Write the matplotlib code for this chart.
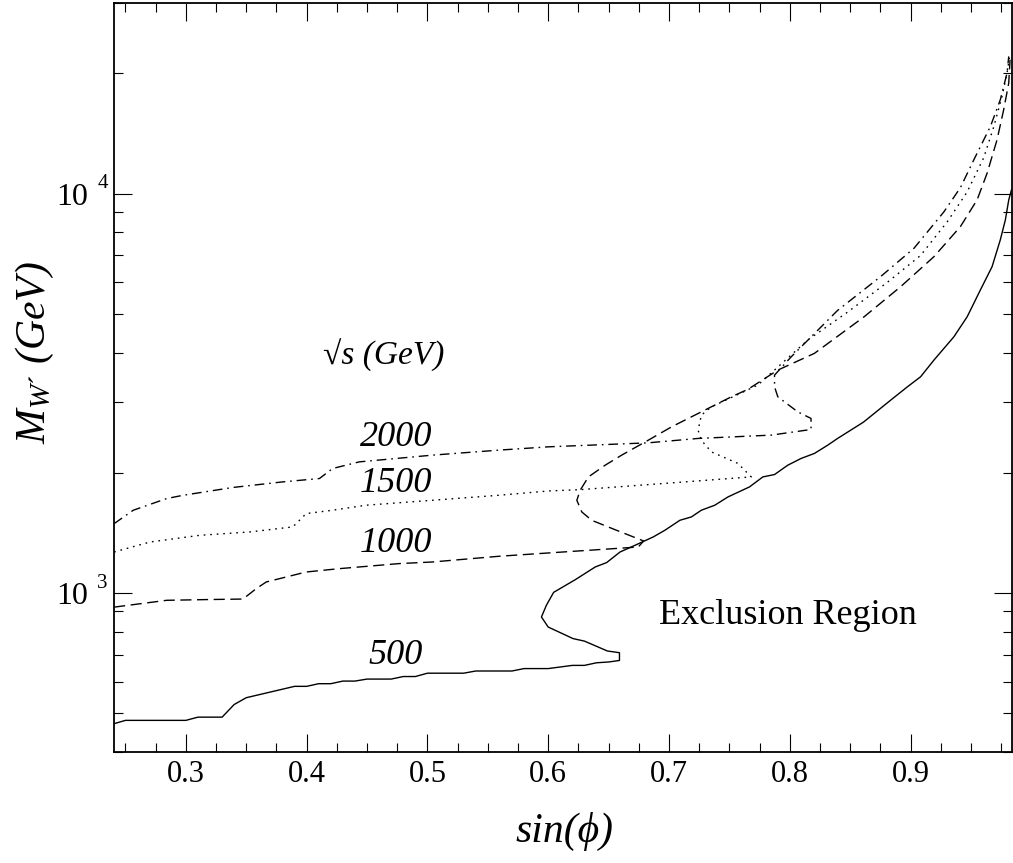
import matplotlib
matplotlib.use("Agg")
import matplotlib.pyplot as plt
from matplotlib.ticker import MultipleLocator, LogLocator, NullFormatter, FixedLocator

plt.rcParams['font.family'] = ['Liberation Serif', 'DejaVu Serif']
plt.rcParams['mathtext.fontset'] = 'custom'
plt.rcParams['mathtext.rm'] = 'Liberation Serif'
plt.rcParams['mathtext.it'] = 'Liberation Serif:italic'
plt.rcParams['mathtext.fallback'] = 'stix'

# ---- data ----
x500 = [0.2406, 0.25, 0.30, 0.31, 0.33, 0.34, 0.35, 0.39, 0.40, 0.41, 0.42, 0.43, 0.44, 0.45, 0.47, 0.48,
        0.49, 0.50, 0.53, 0.54, 0.57, 0.58, 0.60, 0.62, 0.63, 0.64, 0.65, 0.659, 0.659, 0.649, 0.63, 0.6206,
        0.60, 0.5944, 0.5985, 0.6045, 0.6224, 0.6389, 0.6484, 0.6595, 0.6719, 0.687, 0.6966, 0.709, 0.7186,
        0.7268, 0.7379, 0.7488, 0.7667, 0.7777, 0.7874, 0.7983, 0.8093, 0.8204, 0.8314, 0.8396, 0.861,
        0.8836, 0.8974, 0.9083, 0.9194, 0.9359, 0.9469, 0.9578, 0.9675, 0.9743, 0.9785, 0.9813, 0.9835]
y500 = [471, 480, 480, 489, 489, 526, 547, 584, 584, 593, 593, 602, 602, 609, 609, 618,
        618, 630, 630, 638, 638, 647, 647, 659, 659, 669, 672, 678, 709, 716, 758, 769,
        822, 871, 932, 1004, 1080, 1162, 1192, 1267, 1317, 1382, 1436, 1521, 1551,
        1612, 1659, 1740, 1844, 1953, 1980, 2089, 2172, 2236, 2345, 2438, 2678,
        3041, 3283, 3478, 3831, 4381, 4917, 5736, 6561, 7656, 8590, 9640, 10200]

x1000 = [0.2406, 0.2841, 0.3171, 0.3473, 0.3583, 0.3666, 0.3996, 0.4271, 0.4766, 0.504, 0.5591, 0.6003,
         0.6746, 0.679, 0.6553, 0.636, 0.6278, 0.6237, 0.6265, 0.6333, 0.6471, 0.6608, 0.6828, 0.7021,
         0.7268, 0.7516, 0.7653, 0.7901, 0.8204, 0.8616, 0.8918, 0.9194, 0.9413, 0.9551, 0.9634, 0.9716,
         0.9771, 0.9813, 0.9824]
y1000 = [922, 959, 963, 966, 1026, 1066, 1129, 1151, 1185, 1196, 1236, 1260,
         1304, 1350, 1441, 1521, 1596, 1707, 1809, 1953, 2089, 2214, 2413, 2606,
         2842, 3099, 3235, 3615, 3981, 4917, 5847, 6953, 8268, 9643, 11250, 13630,
         16210, 18910, 21630]

x1500 = [0.2406, 0.2703, 0.3116, 0.3528, 0.3885, 0.3941, 0.3996, 0.4215, 0.4491, 0.504, 0.5591, 0.6003,
         0.6278, 0.7021, 0.7681, 0.7571, 0.7351, 0.7268, 0.7241, 0.7268, 0.7351, 0.7736, 0.8149, 0.8479,
         0.8809, 0.9083, 0.9304, 0.9469, 0.9606, 0.9689, 0.9757, 0.9799, 0.9819]
y1500 = [1267, 1342, 1395, 1422, 1464, 1521, 1581, 1612, 1659, 1707, 1757, 1801,
         1816, 1887, 1953, 2111, 2256, 2413, 2557, 2788, 2925, 3316, 4300, 5050,
         6000, 7000, 8500, 10100, 12300, 14700, 17500, 20040, 21880]

x2000 = [0.2406, 0.2565, 0.2841, 0.2978, 0.339, 0.3803, 0.4106, 0.4215, 0.4436, 0.504, 0.5591, 0.6003,
         0.6828, 0.7241, 0.7846, 0.8176, 0.8176, 0.8066, 0.7901, 0.7874, 0.7874, 0.8011, 0.8396, 0.8753,
         0.9029, 0.9276, 0.9413, 0.9524, 0.9661, 0.9743, 0.9799, 0.9813]
y2000 = [1492, 1612, 1724, 1757, 1838, 1898, 1935, 2050, 2130, 2214, 2279, 2323,
         2377, 2438, 2485, 2567, 2736, 2842, 3099, 3283, 3512, 3900, 5100, 6200,
         7300, 9000, 10350, 12150, 14720, 17170, 20040, 22050]

curve_labels = ["500", "1000", "1500", "2000"]
label_x = [0.474, 0.474, 0.474, 0.474]
label_y = [698, 1332, 1883, 2449]

xticks = [0.3, 0.4, 0.5, 0.6, 0.7, 0.8, 0.9]
xtick_labels = ["0.3", "0.4", "0.5", "0.6", "0.7", "0.8", "0.9"]
ymajor = [1e3, 1e4]
ymajor_exp = ["3", "4"]

# ---- figure ----
fig = plt.figure(figsize=(10.13, 8.63), dpi=100)
ax = fig.add_axes([114/1013, 1 - 752/863, (1012-114)/1013, (752-3)/863])

lw = 1.0
ax.plot(x500, y500, color='black', lw=lw, ls='-')
ax.plot(x1000, y1000, color='black', lw=lw, ls=(0, (8, 4)))
ax.plot(x1500, y1500, color='black', lw=lw, ls=(0, (1.2, 3.5)))
ax.plot(x2000, y2000, color='black', lw=lw, ls=(0, (7, 3.5, 1.2, 3.5)))

ax.set_yscale('log')
ax.set_xlim(0.2405, 0.984)
ax.set_ylim(400, 30000)

ax.xaxis.set_major_locator(FixedLocator(xticks))
ax.set_xticklabels(xtick_labels)
ax.xaxis.set_minor_locator(MultipleLocator(0.025))
ax.yaxis.set_major_locator(FixedLocator(ymajor))
ax.yaxis.set_minor_locator(LogLocator(base=10, subs=[2, 3, 4, 5, 6, 7, 8, 9]))
ax.yaxis.set_major_formatter(NullFormatter())
ax.yaxis.set_minor_formatter(NullFormatter())

ax.tick_params(which='both', direction='in', top=True, right=True, color='black')
ax.tick_params(which='major', length=13, width=0.8)
ax.tick_params(which='minor', length=6.5, width=0.8)
ax.tick_params(axis='x', which='major', labelsize=22, pad=6)
for s in ax.spines.values():
    s.set_linewidth(1.3)

# y tick labels "10" with separated exponent
for v, e in zip(ymajor, ymajor_exp):
    ax.annotate("10", xy=(0, v), xycoords=('axes fraction', 'data'),
                xytext=(-18.7, -8.1), textcoords='offset points',
                ha='right', va='baseline', fontsize=23)
    ax.annotate(e, xy=(0, v), xycoords=('axes fraction', 'data'),
                xytext=(-12.0, 3.9), textcoords='offset points',
                ha='left', va='baseline', fontsize=15)

# curve labels
for t, lx, ly in zip(curve_labels, label_x, label_y):
    ax.text(lx, ly, t, fontsize=26, style='italic', ha='center', va='center')

ax.text(0.4642, 3926, "√s (GeV)", fontsize=24, style='italic', ha='center', va='center',
        family=['Liberation Serif', 'DejaVu Serif'])
ax.text(0.7983, 838, "Exclusion Region", fontsize=26, ha='center', va='baseline')

fig.text(564/1013, 1 - 831/863, "sin(ϕ)", fontsize=30, style='italic', ha='center', va='center',
         family=['Liberation Serif', 'DejaVu Serif'])
fig.text(35/1013, 1 - 353/863, "$M_{W´}$ (GeV)", fontsize=30, style='italic', rotation=90,
         ha='center', va='center')

fig.savefig("out.png", dpi=100)
